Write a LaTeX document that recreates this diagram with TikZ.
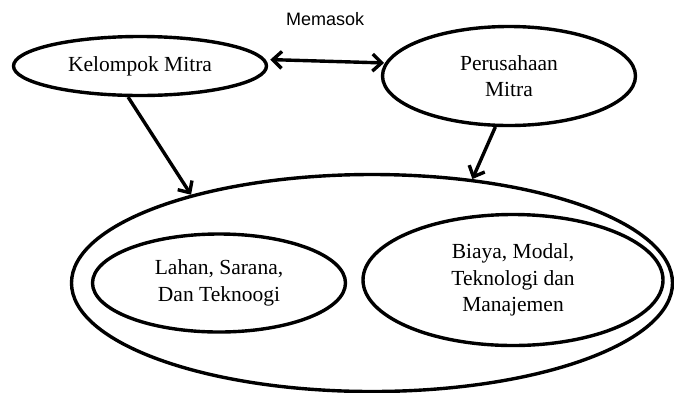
\documentclass[tikz,border=0pt]{standalone}
\usepackage{fontspec}
\setmainfont{Liberation Serif}
\newfontfamily\labelfont{Liberation Sans}
\usetikzlibrary{shapes.geometric,arrows.meta,positioning}
\begin{document}
\begin{tikzpicture}[
			x=1pt, y=-1pt,
			line width=3.4pt,
			oval/.style={ellipse,draw,inner sep=0pt,align=center,
					font=\fontsize{21.5}{26.5}\selectfont},
			panah/.style={-{Straight Barb[length=9pt,width=17pt]}},
			duaarah/.style={{Straight Barb[length=9pt,width=17pt]}-{Straight Barb[length=9pt,width=17pt]}}
		]
		\clip (0,0) rectangle (674,392);
		\node[oval,minimum width=253pt,minimum height=59pt] (kelompok) at (140,66) {Kelompok Mitra};
		\node[oval,minimum width=253pt,minimum height=99pt] (perusahaan) at (509,76) {Perusahaan\\Mitra};
		\node[oval,minimum width=601pt,minimum height=217pt] (sumber) at (372,283) {};
		\node[oval,minimum width=253pt,minimum height=98pt] (lahan) at (219,283) {Lahan, Sarana,\\Dan Teknoogi};
		\node[oval,minimum width=300pt,minimum height=131pt] (biaya) at (513,280) {Biaya, Modal,\\Teknologi dan\\Manajemen};
		\draw[duaarah,shorten <=5pt,shorten >=1pt] (kelompok.3) -- (perusahaan.174)
		node[midway,above=30pt,font=\labelfont\fontsize{18}{21}\selectfont] (memasok) {Memasok};
		\draw[panah] (kelompok.249) -- (sumber.154);
		\draw[panah] (perusahaan.255) -- (sumber.46);
	\end{tikzpicture}
\end{document}
